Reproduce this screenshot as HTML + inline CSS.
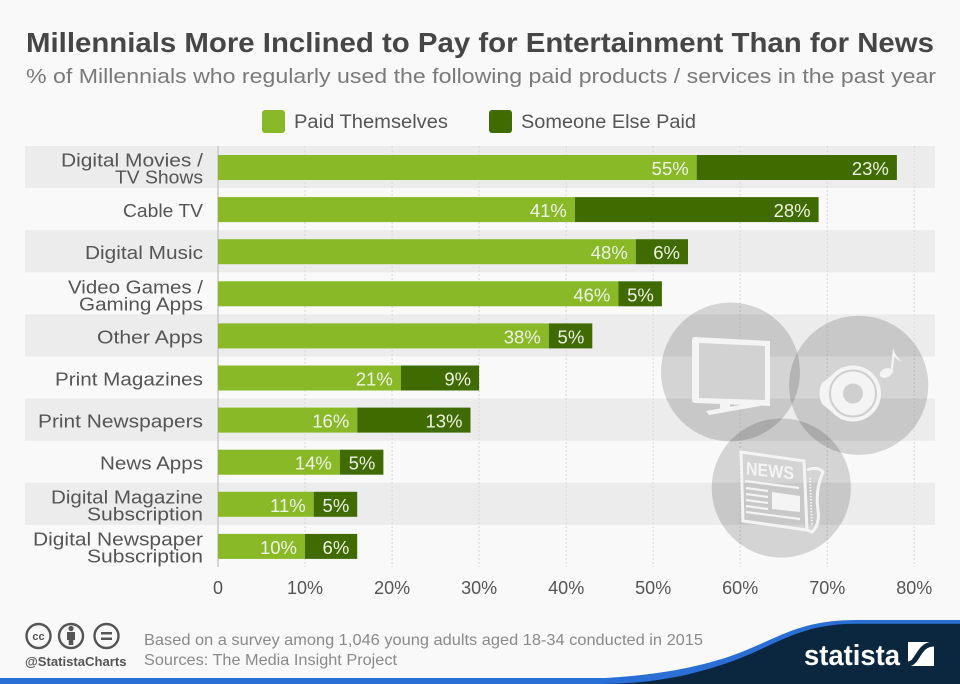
<!DOCTYPE html>
<html>
<head>
<meta charset="utf-8">
<style>
html,body{margin:0;padding:0;background:#f9f9f9;}
svg{display:block;}
text{font-family:"Liberation Sans",sans-serif;}
</style>
</head>
<body>
<svg width="960" height="684" viewBox="0 0 960 684" xmlns="http://www.w3.org/2000/svg">
<rect x="0" y="0" width="960" height="684" fill="#f9f9f9"/>

<!-- Title -->
<text x="26" y="52" font-size="28" font-weight="bold" fill="#464646" textLength="908" lengthAdjust="spacingAndGlyphs">Millennials More Inclined to Pay for Entertainment Than for News</text>
<text x="26" y="83" font-size="20.5" fill="#7a7a7a" textLength="910" lengthAdjust="spacingAndGlyphs">% of Millennials who regularly used the following paid products / services in the past year</text>

<!-- Legend -->
<rect x="262" y="110" width="23" height="23" rx="3" fill="#89b926"/>
<text x="294" y="128" font-size="19" fill="#555" textLength="154" lengthAdjust="spacingAndGlyphs">Paid Themselves</text>
<rect x="489" y="110" width="23" height="23" rx="3" fill="#3f6b00"/>
<text x="521" y="128" font-size="19" fill="#555" textLength="175" lengthAdjust="spacingAndGlyphs">Someone Else Paid</text>

<!-- Bands -->
<g fill="#ececec">
<rect x="25" y="146" width="910" height="42.1"/>
<rect x="25" y="230.2" width="910" height="42.1"/>
<rect x="25" y="314.4" width="910" height="42.1"/>
<rect x="25" y="398.6" width="910" height="42.1"/>
<rect x="25" y="482.8" width="910" height="42.1"/>
</g>

<!-- Gridlines -->
<g stroke="#dcdcdc" stroke-width="1.2" stroke-dasharray="2,2">
<line x1="305" y1="146" x2="305" y2="567"/>
<line x1="392.1" y1="146" x2="392.1" y2="567"/>
<line x1="479.1" y1="146" x2="479.1" y2="567"/>
<line x1="566.2" y1="146" x2="566.2" y2="567"/>
<line x1="653.2" y1="146" x2="653.2" y2="567"/>
<line x1="740.2" y1="146" x2="740.2" y2="567"/>
<line x1="827.3" y1="146" x2="827.3" y2="567"/>
<line x1="914.3" y1="146" x2="914.3" y2="567"/>
</g>
<line x1="218" y1="146" x2="218" y2="567" stroke="#c8c8c8" stroke-width="1.5"/>

<!-- Bars -->
<g fill="#89b926">
<rect x="218" y="155" width="478.7" height="25"/>
<rect x="218" y="197.1" width="356.9" height="25"/>
<rect x="218" y="239.2" width="417.8" height="25"/>
<rect x="218" y="281.3" width="400.4" height="25"/>
<rect x="218" y="323.4" width="330.8" height="25"/>
<rect x="218" y="365.5" width="182.8" height="25"/>
<rect x="218" y="407.6" width="139.3" height="25"/>
<rect x="218" y="449.7" width="121.9" height="25"/>
<rect x="218" y="491.8" width="95.7" height="25"/>
<rect x="218" y="533.9" width="87.0" height="25"/>
</g>
<g fill="#3f6b00">
<rect x="696.7" y="155" width="200.2" height="25"/>
<rect x="574.9" y="197.1" width="243.7" height="25"/>
<rect x="635.8" y="239.2" width="52.2" height="25"/>
<rect x="618.4" y="281.3" width="43.5" height="25"/>
<rect x="548.8" y="323.4" width="43.5" height="25"/>
<rect x="400.8" y="365.5" width="78.3" height="25"/>
<rect x="357.3" y="407.6" width="113.2" height="25"/>
<rect x="339.9" y="449.7" width="43.5" height="25"/>
<rect x="313.7" y="491.8" width="43.5" height="25"/>
<rect x="305.0" y="533.9" width="52.2" height="25"/>
</g>

<!-- Value labels -->
<g font-size="18.5" fill="#eef2e6" text-anchor="end">
<text x="688.7" y="175">55%</text><text x="888.9" y="175">23%</text>
<text x="566.9" y="217.1">41%</text><text x="810.6" y="217.1">28%</text>
<text x="627.8" y="259.2">48%</text><text x="680" y="259.2">6%</text>
<text x="610.4" y="301.3">46%</text><text x="653.9" y="301.3">5%</text>
<text x="540.8" y="343.4">38%</text><text x="584.3" y="343.4">5%</text>
<text x="392.8" y="385.5">21%</text><text x="471.1" y="385.5">9%</text>
<text x="349.3" y="427.6">16%</text><text x="462.5" y="427.6">13%</text>
<text x="331.9" y="469.7">14%</text><text x="375.4" y="469.7">5%</text>
<text x="305.7" y="511.8">11%</text><text x="349.3" y="511.8">5%</text>
<text x="297" y="553.9">10%</text><text x="349.3" y="553.9">6%</text>
</g>

<!-- Category labels -->
<g font-size="18.5" fill="#555" text-anchor="end">
<text x="203" y="166.5" textLength="142" lengthAdjust="spacingAndGlyphs">Digital Movies /</text>
<text x="203" y="183.5" textLength="88" lengthAdjust="spacingAndGlyphs">TV Shows</text>
<text x="203" y="217.1" textLength="80" lengthAdjust="spacingAndGlyphs">Cable TV</text>
<text x="203" y="259.2" textLength="118" lengthAdjust="spacingAndGlyphs">Digital Music</text>
<text x="203" y="293.3" textLength="135" lengthAdjust="spacingAndGlyphs">Video Games /</text>
<text x="203" y="310.5" textLength="124" lengthAdjust="spacingAndGlyphs">Gaming Apps</text>
<text x="203" y="343.4" textLength="106" lengthAdjust="spacingAndGlyphs">Other Apps</text>
<text x="203" y="385.5" textLength="148" lengthAdjust="spacingAndGlyphs">Print Magazines</text>
<text x="203" y="427.6" textLength="165" lengthAdjust="spacingAndGlyphs">Print Newspapers</text>
<text x="203" y="469.7" textLength="103" lengthAdjust="spacingAndGlyphs">News Apps</text>
<text x="203" y="503.3" textLength="152" lengthAdjust="spacingAndGlyphs">Digital Magazine</text>
<text x="203" y="520.5" textLength="116" lengthAdjust="spacingAndGlyphs">Subscription</text>
<text x="203" y="545.4" textLength="170" lengthAdjust="spacingAndGlyphs">Digital Newspaper</text>
<text x="203" y="562.6" textLength="116" lengthAdjust="spacingAndGlyphs">Subscription</text>
</g>

<!-- X axis labels -->
<g font-size="18" fill="#555" text-anchor="middle">
<text x="218" y="594">0</text>
<text x="305" y="594">10%</text>
<text x="392.1" y="594">20%</text>
<text x="479.1" y="594">30%</text>
<text x="566.2" y="594">40%</text>
<text x="653.2" y="594">50%</text>
<text x="740.2" y="594">60%</text>
<text x="827.3" y="594">70%</text>
<text x="914.3" y="594">80%</text>
</g>

<!-- Decorative circles -->
<g fill="#000" fill-opacity="0.15">
<circle cx="730.5" cy="372" r="69.5"/>
<circle cx="858.7" cy="385.3" r="69.6"/>
<circle cx="781.3" cy="488" r="69.6"/>
</g>

<!-- TV icon -->
<g fill="#f4f4f4">
<path d="M692,340 Q692,337 695,337 L770,341 L770,406 L696,403 Q692,403 692,400 Z"/>
<path d="M706,411 L757,402 L760,406 L709,415 Z"/>
<rect x="720" y="404" width="10" height="6" />
</g>
<path d="M699,343 L765,346 L765,400 L699,398 Z" fill="#d2d2d2"/>

<!-- Speaker icon -->
<g>
<path d="M822,383 L842,367 L842,420 L822,404 Q817,393 822,383 Z" fill="#f4f4f4"/>
<circle cx="853" cy="393.5" r="28" fill="#f4f4f4"/>
<circle cx="853" cy="393.5" r="23" fill="none" stroke="#cfcfcf" stroke-width="2"/>
<circle cx="853" cy="393.5" r="10" fill="#cfcfcf"/>
<ellipse cx="886" cy="373" rx="6.5" ry="4.5" transform="rotate(-25 886 373)" fill="#f4f4f4"/>
<path d="M890.5,372 L893,348 Q896,358 903,362 Q896,360 894.5,356 L892.5,373 Z" fill="#f4f4f4"/>
</g>

<!-- Newspaper icon -->
<g>
<path d="M741,452 L804,461 L807,530 L743,521 Z" fill="none" stroke="#f4f4f4" stroke-width="3"/>
<path d="M807,470 Q818,466 823,472 Q815,490 818,510 Q820,525 812,532 L807,530" fill="none" stroke="#f4f4f4" stroke-width="3"/>
<g stroke="#f4f4f4" stroke-width="1.8" stroke-dasharray="1.5,1.5"><line x1="810" y1="478" x2="812" y2="526"/></g>
<text x="746" y="476" font-size="18" font-weight="bold" fill="#f4f4f4" transform="skewY(6)" textLength="48" lengthAdjust="spacingAndGlyphs" dy="-80">NEWS</text>
<g stroke="#f4f4f4" stroke-width="2.2">
<line x1="745" y1="481" x2="799" y2="488"/>
<line x1="746" y1="488" x2="768" y2="491"/>
<line x1="746" y1="494" x2="768" y2="497"/>
<line x1="746" y1="500" x2="768" y2="503"/>
<line x1="746" y1="506" x2="768" y2="509"/>
<line x1="746" y1="512" x2="800" y2="519"/>
</g>
<path d="M772,492 L800,496 L800,512 L772,509 Z" fill="#f4f4f4"/>
</g>

<!-- Footer -->
<rect x="0" y="678" width="960" height="6" fill="#2a6fd5"/>
<path d="M560,684 L560,679 C630,679 680,672 725,658 C770,643 790,625 835,621 C845,620 855,620 870,620 L960,620 L960,684 Z" fill="#2a6fd5"/>
<path d="M600,684 C650,684 690,676 730,662 C772,647 792,629 838,624.5 C848,623.8 856,623.8 870,623.8 L960,623.8 L960,684 Z" fill="#0b2740"/>
<text x="804" y="665" font-size="29" font-weight="bold" fill="#ffffff" textLength="96" lengthAdjust="spacingAndGlyphs">statista</text>
<rect x="908" y="642" width="26" height="24" fill="#ffffff"/>
<path d="M908,664 C918,664 918,644 934,644" fill="none" stroke="#0b2740" stroke-width="5"/>

<!-- CC icons -->
<g fill="none" stroke="#555" stroke-width="2.4">
<circle cx="38.5" cy="636" r="12"/>
<circle cx="71" cy="636" r="12"/>
<circle cx="106.5" cy="636" r="12"/>
</g>
<text x="38.5" y="640" font-size="11" font-weight="bold" fill="#555" text-anchor="middle">cc</text>
<circle cx="71" cy="628.5" r="2.6" fill="#555"/>
<path d="M67,632 L75,632 L75,640 L73.3,640 L73.3,645 L68.7,645 L68.7,640 L67,640 Z" fill="#555"/>
<rect x="101" y="632" width="11" height="2.5" fill="#555"/>
<rect x="101" y="637.5" width="11" height="2.5" fill="#555"/>
<text x="25" y="666" font-size="12.5" font-weight="bold" fill="#555" textLength="101.5" lengthAdjust="spacingAndGlyphs">@StatistaCharts</text>
<text x="144" y="645" font-size="16" fill="#8a8a8a" textLength="559" lengthAdjust="spacingAndGlyphs">Based on a survey among 1,046 young adults aged 18-34 conducted in 2015</text>
<text x="144" y="665" font-size="16" fill="#8a8a8a" textLength="253" lengthAdjust="spacingAndGlyphs">Sources: The Media Insight Project</text>
</svg>
</body>
</html>
